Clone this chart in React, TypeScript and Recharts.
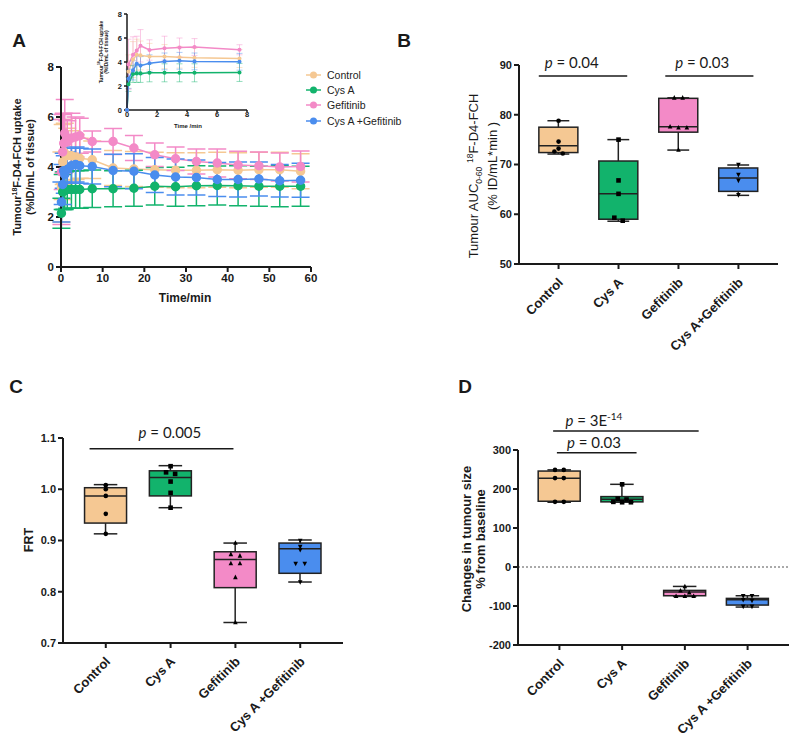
import React from "react";
import {
  ComposedChart,
  LineChart,
  Line,
  Bar,
  Scatter,
  XAxis,
  YAxis,
  ErrorBar,
  ReferenceLine,
} from "recharts";

const FONT = "'Liberation Sans', Arial, sans-serif";
const P_FONT = "Lato, 'Liberation Sans', sans-serif";
const INK = "#1a1a1a";

const seriesKeys = ["control", "cysA", "gef", "combo"];
const seriesNames = ["Control", "Cys A", "Gefitinib", "Cys A +Gefitinib"];
const seriesColors = ["#F5C893", "#12B36C", "#F38AC7", "#4A8DEE"];
const groupsB = ["Control", "Cys A", "Gefitinib", "Cys A+Gefitinib"];

// Panel A: tumour uptake over time (mean, SD)
const timeMin = [0.1, 0.4, 0.65, 0.9, 1.5, 2.5, 3.5, 4.5, 7.5, 12.5, 17.5, 22.5, 27.5, 32.5, 37.5, 42.5, 47.5, 52.5, 57.5];
const controlUptake = [3.2, 4.2, 4.6, 4.55, 4.45, 4.45, 4.4, 4.35, 4.29, 3.96, 3.92, 3.89, 3.87, 3.87, 3.89, 3.87, 3.89, 3.89, 3.83];
const cysAUptake = [2.15, 3.0, 3.05, 3.05, 3.1, 3.1, 3.1, 3.1, 3.13, 3.13, 3.15, 3.23, 3.21, 3.25, 3.26, 3.25, 3.23, 3.23, 3.23];
const gefUptake = [3.8, 4.6, 4.95, 5.35, 5.0, 5.15, 5.2, 5.25, 5.02, 5.02, 4.76, 4.49, 4.33, 4.22, 4.16, 4.08, 4.05, 4.0, 4.02];
const comboUptake = [2.6, 3.3, 3.85, 3.7, 3.9, 4.05, 4.1, 4.05, 4.02, 3.86, 3.83, 3.68, 3.6, 3.58, 3.5, 3.5, 3.52, 3.45, 3.47];
const controlSd = [1.4, 1.5, 1.3, 1.2, 1.1, 1.0, 0.9, 0.8, 0.75, 0.7, 0.7, 0.7, 0.7, 0.7, 0.7, 0.7, 0.7, 0.7, 0.7];
const cysASd = [0.6, 0.7, 0.75, 0.75, 0.75, 0.75, 0.75, 0.75, 0.75, 0.72, 0.72, 0.75, 0.78, 0.8, 0.78, 0.8, 0.8, 0.82, 0.8];
const gefSd = [2.1, 1.5, 1.2, 1.35, 0.85, 1.0, 0.8, 0.7, 0.42, 0.52, 0.5, 0.47, 0.47, 0.5, 0.56, 0.55, 0.55, 0.56, 0.62];
const comboSd = [0.8, 0.8, 0.7, 0.75, 0.7, 0.7, 0.7, 0.7, 0.7, 0.65, 0.7, 0.7, 0.72, 0.7, 0.68, 0.7, 0.68, 0.65, 0.68];

// Panel B: AUC 0-60  [min, q1, median, q3, max]
const aucBox = [
  [72.1, 72.4, 73.75, 77.5, 78.8],
  [58.6, 59.0, 64.1, 70.7, 75.0],
  [72.9, 76.5, 77.6, 83.3, 83.4],
  [63.8, 64.6, 67.3, 69.3, 69.9],
];
const aucPoints = [
  [78.8, 74.6, 73.2, 72.6, 72.2],
  [75.0, 66.8, 64.1, 59.3, 58.7],
  [83.4, 83.4, 77.6, 77.4, 77.4, 72.9],
  [70.0, 68.0, 66.8, 63.9],
];

// Panel C: FRT
const frtBox = [
  [0.913, 0.934, 0.987, 1.003, 1.009],
  [0.964, 0.987, 1.023, 1.036, 1.046],
  [0.74, 0.808, 0.863, 0.878, 0.895],
  [0.819, 0.836, 0.884, 0.895, 0.901],
];
const frtPoints = [
  [1.008, 1.0, 0.987, 0.952, 0.913],
  [1.045, 1.033, 1.03, 1.015, 0.993, 0.964],
  [0.895, 0.873, 0.87, 0.855, 0.855, 0.828, 0.74],
  [0.9, 0.888, 0.882, 0.855, 0.855, 0.819],
];

// Panel D: change in tumour size (%)
const sizeBox = [
  [166, 168.6, 227.5, 246, 249],
  [166, 167, 173.7, 180.5, 212],
  [-75.4, -73.7, -64.3, -60, -49.8],
  [-102.7, -97.6, -84, -80.5, -73.7],
];
const sizePoints = [
  [249, 249, 228, 228, 167, 167],
  [212, 175, 173, 167, 166, 166],
  [-50, -61, -66, -75, -75, -75],
  [-74, -74, -84, -86, -101, -101],
];

const uptakeRows = timeMin.map((t, k) => ({
  t,
  control: controlUptake[k],
  cysA: cysAUptake[k],
  gef: gefUptake[k],
  combo: comboUptake[k],
  controlSd: controlSd[k],
  cysASd: cysASd[k],
  gefSd: gefSd[k],
  comboSd: comboSd[k],
}));
const insetRows = [
  { t: 0, control: 0, cysA: 0, gef: 0, combo: 0 },
  ...uptakeRows.filter((r) => r.t <= 7.5),
];

function spreadPoints(groups: number[][], tol: number) {
  const out: { i: number; v: number; g: number }[] = [];
  groups.forEach((vals, g) => {
    const used = vals.map(() => false);
    vals.forEach((v) => {
      const cluster = vals
        .map((_, j) => j)
        .filter((j) => !used[j] && Math.abs(vals[j] - v) <= tol);
      cluster.forEach((j, n) => {
        used[j] = true;
        out.push({ i: g + (n - (cluster.length - 1) / 2) * 0.14, v: vals[j], g });
      });
    });
  });
  return out;
}

function BoxShape(props: any) {
  const { x, y, width, height, payload, boxW } = props;
  const [lo, q1, med, q3, hi] = payload.stats;
  const ppu = height / (q3 - q1);
  const yMed = y + (q3 - med) * ppu;
  const yHi = y - (hi - q3) * ppu;
  const yLo = y + height + (q1 - lo) * ppu;
  const cx = x + width / 2;
  const left = cx - boxW / 2;
  const cap = boxW * 0.28;
  const st = { stroke: "#222", strokeWidth: 1.5 };
  return (
    <g>
      <line x1={cx} x2={cx} y1={yHi} y2={y} {...st} />
      <line x1={cx} x2={cx} y1={y + height} y2={yLo} {...st} />
      <line x1={cx - cap} x2={cx + cap} y1={yHi} y2={yHi} {...st} />
      <line x1={cx - cap} x2={cx + cap} y1={yLo} y2={yLo} {...st} />
      <rect x={left} y={y} width={boxW} height={height} fill={seriesColors[payload.i]} {...st} />
      <line x1={left} x2={left + boxW} y1={yMed} y2={yMed} {...st} />
    </g>
  );
}

function PointMark(props: any) {
  const { cx, cy, payload } = props;
  const s = 2.3;
  if (payload.g === 1) return <rect x={cx - s} y={cy - s} width={s * 2} height={s * 2} fill="#000" />;
  if (payload.g === 2)
    return <polygon points={`${cx},${cy - s - 0.5} ${cx - s},${cy + s - 0.5} ${cx + s},${cy + s - 0.5}`} fill="#000" />;
  if (payload.g === 3)
    return <polygon points={`${cx},${cy + s + 0.5} ${cx - s},${cy - s + 0.5} ${cx + s},${cy - s + 0.5}`} fill="#000" />;
  return <circle cx={cx} cy={cy} r={s} fill="#000" />;
}

function CatTick(props: any) {
  const { x, y, payload, names } = props;
  return (
    <text
      transform={`translate(${x - 1},${y + 6}) rotate(-45)`}
      dy={9}
      textAnchor="end"
      fontSize={13}
      fontWeight={700}
      fontFamily={FONT}
      fill={INK}
    >
      {names[payload.value]}
    </text>
  );
}

function sigLine(key: string, x1: number, x2: number, y: number, textX: number, lift: number, label: React.ReactNode) {
  return (
    <ReferenceLine
      key={key}
      segment={[{ x: x1, y }, { x: x2, y }]}
      stroke={INK}
      strokeWidth={1.5}
      ifOverflow="visible"
      label={(lp: any) => {
        const vb = lp.viewBox;
        const cx = vb.x + ((textX - x1) / (x2 - x1)) * vb.width;
        return (
          <text x={cx} y={vb.y - lift} textAnchor="middle" fontSize={15} fontFamily={P_FONT} fill={INK}>
            {label}
          </text>
        );
      }}
    />
  );
}

const axisStyle = { stroke: INK, strokeWidth: 2 };
const tickFont = { fontSize: 11, fontWeight: 700, fill: INK, fontFamily: FONT };

function BoxPanel(p: any) {
  const rows = p.stats.map((s: number[], i: number) => ({ i, box: [s[1], s[3]], stats: s }));
  const span = p.domain[1] - p.domain[0];
  const dots = spreadPoints(p.points, span * 0.015);
  return (
    <div style={{ position: "absolute", left: p.left, top: p.top }}>
      <ComposedChart
        width={p.width}
        height={p.height}
        data={rows}
        margin={{ top: p.marginTop, right: p.marginRight, left: 0, bottom: 0 }}
        style={{ overflow: "visible" }}
      >
        <XAxis
          type="number"
          dataKey="i"
          domain={[-0.66, 3.66]}
          ticks={[0, 1, 2, 3]}
          interval={0}
          height={p.xHeight}
          axisLine={axisStyle}
          tickLine={axisStyle}
          tickSize={5}
          tick={(t: any) => <CatTick {...t} names={p.names} />}
        />
        <YAxis
          type="number"
          domain={p.domain}
          ticks={p.ticks}
          interval={0}
          width={p.yWidth}
          axisLine={axisStyle}
          tickLine={axisStyle}
          tickSize={5}
          tick={tickFont}
          tickFormatter={p.fmt}
        />
        {p.children}
        <Bar
          dataKey="box"
          barSize={p.barSize}
          shape={(bp: any) => <BoxShape {...bp} boxW={p.barSize} />}
          isAnimationActive={false}
        />
        <Scatter data={dots} dataKey="v" shape={(sp: any) => <PointMark {...sp} />} isAnimationActive={false} />
      </ComposedChart>
    </div>
  );
}

function VLabel({ x, y, size, bold, children }: any) {
  return (
    <div
      style={{
        position: "absolute",
        left: x,
        top: y,
        transform: "translate(-50%,-50%) rotate(-90deg)",
        whiteSpace: "nowrap",
        fontSize: size,
        fontWeight: bold ? 700 : 400,
        lineHeight: 1.1,
        fontFamily: FONT,
        color: INK,
        textAlign: "center",
      }}
    >
      {children}
    </div>
  );
}

function HLabel({ x, y, size, children }: any) {
  return (
    <div
      style={{
        position: "absolute",
        left: x,
        top: y,
        transform: "translate(-50%,-50%)",
        whiteSpace: "nowrap",
        fontSize: size,
        fontWeight: 700,
        lineHeight: 1,
        fontFamily: FONT,
        color: INK,
      }}
    >
      {children}
    </div>
  );
}

const pItalic = <tspan fontStyle="italic">p</tspan>;

export default function App() {
  return (
    <div style={{ position: "absolute", left: 0, top: 0, width: 798, height: 740, background: "#fff", fontFamily: FONT }}>
      {/* Panel A main */}
      <div style={{ position: "absolute", left: 0, top: 50 }}>
        <LineChart width={330} height={257} data={uptakeRows} margin={{ top: 17, right: 19, left: 0, bottom: 0 }}>
          <XAxis
            type="number"
            dataKey="t"
            domain={[0, 60]}
            ticks={[0, 10, 20, 30, 40, 50, 60]}
            interval={0}
            height={40}
            axisLine={axisStyle}
            tickLine={axisStyle}
            tickSize={5}
            tick={{ ...tickFont, fontSize: 11.5 }}
          />
          <YAxis
            type="number"
            domain={[0, 8]}
            ticks={[0, 2, 4, 6, 8]}
            interval={0}
            width={61}
            axisLine={axisStyle}
            tickLine={axisStyle}
            tickSize={5}
            tick={{ ...tickFont, fontSize: 11.5 }}
          />
          {seriesKeys.map((k, i) => (
            <Line
              key={k}
              dataKey={k}
              stroke={seriesColors[i]}
              strokeWidth={1.5}
              dot={{ r: 4, fill: seriesColors[i], stroke: seriesColors[i] }}
              isAnimationActive={false}
            >
              <ErrorBar dataKey={k + "Sd"} width={9} strokeWidth={1.5} stroke={seriesColors[i]} direction="y" />
            </Line>
          ))}
        </LineChart>
      </div>
      <VLabel x={23} y={167} size={11} bold>
        <div>
          Tumour<sup style={{ fontSize: 7 }}>18</sup>F-D4-FCH uptake
        </div>
        <div>(%ID/mL of tissue)</div>
      </VLabel>
      <HLabel x={185} y={298} size={12}>
        Time/min
      </HLabel>

      {/* Panel A inset */}
      <div style={{ position: "absolute", left: 100, top: 5 }}>
        <LineChart width={155} height={130} data={insetRows} margin={{ top: 9, right: 8, left: 0, bottom: 0 }}>
          <XAxis
            type="number"
            dataKey="t"
            domain={[0, 8]}
            ticks={[0, 2, 4, 6, 8]}
            interval={0}
            height={25}
            axisLine={{ stroke: INK, strokeWidth: 1.5 }}
            tickLine={{ stroke: INK, strokeWidth: 1.5 }}
            tickSize={2}
            tickMargin={0}
            tick={{ ...tickFont, fontSize: 7.5 }}
          />
          <YAxis
            type="number"
            domain={[0, 8]}
            ticks={[0, 2, 4, 6, 8]}
            interval={0}
            width={27}
            axisLine={{ stroke: INK, strokeWidth: 1.5 }}
            tickLine={{ stroke: INK, strokeWidth: 1.5 }}
            tickSize={3}
            tick={{ ...tickFont, fontSize: 7.5 }}
          />
          {seriesKeys.map((k, i) => (
            <Line
              key={k}
              dataKey={k}
              stroke={seriesColors[i]}
              strokeWidth={1.5}
              dot={{ r: 1.3, fill: seriesColors[i], stroke: seriesColors[i] }}
              isAnimationActive={false}
            >
              <ErrorBar dataKey={k + "Sd"} width={3} strokeWidth={1} stroke={seriesColors[i]} strokeOpacity={0.45} direction="y" />
            </Line>
          ))}
        </LineChart>
      </div>
      <VLabel x={104} y={52} size={5} bold>
        <div>
          Tumour<sup style={{ fontSize: 3.5 }}>18</sup>F-D4-FCH uptake
        </div>
        <div>(%ID/mL of tissue)</div>
      </VLabel>
      <HLabel x={188} y={126} size={6}>
        Time /min
      </HLabel>

      {/* Legend */}
      <div style={{ position: "absolute", left: 306, top: 67 }}>
        {seriesNames.map((n, i) => (
          <div key={n} style={{ display: "flex", alignItems: "center", height: 15.3, fontSize: 10.5, color: "#222", fontFamily: FONT }}>
            <svg width={15} height={10} style={{ marginRight: 6 }}>
              <line x1={0} x2={15} y1={5} y2={5} stroke={seriesColors[i]} strokeWidth={1.5} />
              <circle cx={7.5} cy={5} r={3.5} fill={seriesColors[i]} />
            </svg>
            {n}
          </div>
        ))}
      </div>

      {/* Panel B */}
      <BoxPanel
        left={440}
        top={40}
        width={345}
        height={314}
        marginTop={25}
        marginRight={7}
        yWidth={79}
        xHeight={90}
        domain={[50, 90]}
        ticks={[50, 60, 70, 80, 90]}
        stats={aucBox}
        points={aucPoints}
        names={groupsB}
        barSize={39}
      >
        {sigLine("b1", -0.33, 1.145, 87.8, 0.22, 8, <>{pItalic} = 0.04</>)}
        {sigLine("b2", 1.78, 3.25, 87.8, 2.395, 8, <>{pItalic} = 0.03</>)}
      </BoxPanel>
      <VLabel x={475} y={176} size={13}>
        Tumour AUC<sub style={{ fontSize: 8.5 }}>0-60</sub>
        {"  "}
        <sup style={{ fontSize: 8.5 }}>18</sup>F-D4-FCH
      </VLabel>
      <VLabel x={493} y={166} size={13}>
        (% ID/mL*min )
      </VLabel>

      {/* Panel C */}
      <BoxPanel
        left={10}
        top={400}
        width={343}
        height={338}
        marginTop={38}
        marginRight={10}
        yWidth={53}
        xHeight={95}
        domain={[0.7, 1.1]}
        ticks={[0.7, 0.8, 0.9, 1.0, 1.1]}
        fmt={(v: number) => v.toFixed(1)}
        stats={frtBox}
        points={frtPoints}
        names={seriesNames}
        barSize={42}
      >
        {sigLine("c1", -0.25, 1.97, 1.079, 0.99, 11, <>{pItalic} = 0.005</>)}
      </BoxPanel>
      <VLabel x={30} y={540} size={12.5} bold>
        FRT
      </VLabel>

      {/* Panel D */}
      <BoxPanel
        left={450}
        top={405}
        width={345}
        height={335}
        marginTop={45}
        marginRight={6}
        yWidth={68}
        xHeight={95}
        domain={[-200, 300]}
        ticks={[-200, -100, 0, 100, 200, 300]}
        stats={sizeBox}
        points={sizePoints}
        names={seriesNames}
        barSize={42}
      >
        <ReferenceLine y={0} stroke="#555" strokeWidth={1} strokeDasharray="2 2" />
        {sigLine("d1", -0.1, 2.22, 348.6, 0.55, 5, (
          <>
            {pItalic} = 3E<tspan dy={-6} fontSize={10}>-14</tspan>
          </>
        ))}
        {sigLine("d2", -0.04, 1.23, 293.2, 0.55, 5, <>{pItalic} = 0.03</>)}
      </BoxPanel>
      <VLabel x={474} y={539} size={13} bold>
        <div>Changes in tumour size</div>
        <div>% from baseline</div>
      </VLabel>

      {/* Panel letters */}
      <HLabel x={19} y={40} size={19}>A</HLabel>
      <HLabel x={404} y={40} size={19}>B</HLabel>
      <HLabel x={16} y={386} size={19}>C</HLabel>
      <HLabel x={465} y={386} size={19}>D</HLabel>
    </div>
  );
}
